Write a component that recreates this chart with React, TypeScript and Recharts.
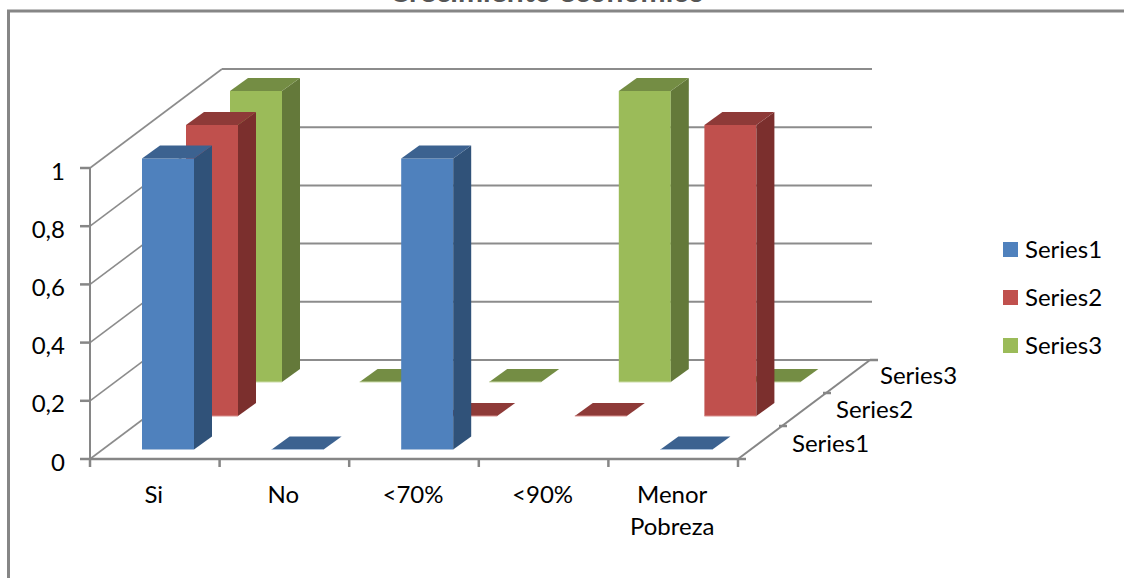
import React from "react";
import { BarChart, Bar, XAxis, YAxis, CartesianGrid } from "recharts";

const categories = ["Si", "No", "<70%", "<90%", "Menor Pobreza"];
const seriesNames = ["Series1", "Series2", "Series3"];
const series1 = [1, 0, 1, null, 0];
const series2 = [1, null, 0, 0, 1];
const series3 = [1, 0, 0, 1, 0];
const yTicks = [0, 0.2, 0.4, 0.6, 0.8, 1];

const chartData = categories.map((name, i) => ({
  name,
  Series1: series1[i],
  Series2: series2[i],
  Series3: series3[i],
}));

const FONT = "Lato, 'Open Sans', sans-serif";
const AXIS_COLOR = "#868686";
const GRID_COLOR = "#8c8c8c";

// plot area of the front plane
const PLOT_RIGHT = 738;
const PLOT_TOP = 168;
const PLOT_BOTTOM = 459;
const CATEGORY_WIDTH = (PLOT_RIGHT - 90) / categories.length;
// how far the back wall is pushed away from the front plane
const DEPTH_X = 132;
const DEPTH_Y = 99;
// bar block depth
const BAR_DX = 18;
const BAR_DY = 13;

const colors = {
  Series1: { front: "#4F81BD", top: "#3C6290", side: "#305279", edge: "#A9C0DC" },
  Series2: { front: "#C0504D", top: "#8E3A38", side: "#7B2F2D", edge: "#D9908E" },
  Series3: { front: "#9BBB59", top: "#748D44", side: "#64793A", edge: "#CBDBA8" },
};

// offset of each series row on the floor
const rowOffset = {
  Series1: { x: 13, y: 9.5 },
  Series2: { x: 57, y: 43 },
  Series3: { x: 101, y: 77 },
};

const makeBarShape = (key: "Series1" | "Series2" | "Series3") => (props: any) => {
  const { x, y, width, height, payload } = props;
  if (payload[key] === null || payload[key] === undefined) return null;
  const c = colors[key];
  const left = x + rowOffset[key].x;
  const right = left + width;
  const top = y - rowOffset[key].y;
  const bottom = top + height;
  return (
    <g>
      {height > 0 && <rect x={left} y={top} width={width} height={height} fill={c.front} />}
      {height > 0 && (
        <polygon
          points={`${right},${top} ${right + BAR_DX},${top - BAR_DY} ${right + BAR_DX},${bottom - BAR_DY} ${right},${bottom}`}
          fill={c.side}
        />
      )}
      <polygon
        points={`${left},${top} ${left + BAR_DX},${top - BAR_DY} ${right + BAR_DX},${top - BAR_DY} ${right},${top}`}
        fill={c.top}
      />
      <line x1={left} y1={bottom} x2={right} y2={bottom} stroke={c.edge} strokeWidth={1} />
    </g>
  );
};

const WallLine = (props: any) => {
  const { x1, y1, x2 } = props;
  return (
    <g key={props.key}>
      <line
        x1={x1}
        y1={y1}
        x2={x1 + DEPTH_X}
        y2={y1 - DEPTH_Y}
        stroke={GRID_COLOR}
        strokeWidth={1.6}
      />
      <line
        x1={x1 + DEPTH_X}
        y1={y1 - DEPTH_Y}
        x2={x2 + DEPTH_X + 2}
        y2={y1 - DEPTH_Y}
        stroke={GRID_COLOR}
        strokeWidth={2}
      />
    </g>
  );
};

// tick marks sit on the category boundaries, labels in the middle
const CategoryTick = (props: any) => {
  const { x, y, payload, index } = props;
  const lines = String(payload.value).split(" ");
  const left = x - CATEGORY_WIDTH / 2;
  const right = x + CATEGORY_WIDTH / 2;
  return (
    <g>
      <line x1={left} y1={PLOT_BOTTOM} x2={left} y2={PLOT_BOTTOM + 8} stroke={AXIS_COLOR} strokeWidth={2.5} />
      {index === categories.length - 1 && (
        <line x1={right} y1={PLOT_BOTTOM} x2={right} y2={PLOT_BOTTOM + 8} stroke={AXIS_COLOR} strokeWidth={2.5} />
      )}
      <text x={x - 1} y={y} textAnchor="middle" fontFamily={FONT} fontSize={24} fill="#000">
        {lines.map((line, i) => (
          <tspan key={line} x={x - 1} dy={i === 0 ? 34 : 32}>
            {line}
          </tspan>
        ))}
      </text>
    </g>
  );
};

const App = () => {
  const zx = (t: number) => PLOT_RIGHT + (DEPTH_X * t) / 3;
  const zy = (t: number) => PLOT_BOTTOM - (DEPTH_Y * t) / 3;
  return (
    <div style={{ position: "absolute", left: 0, top: 0, width: 1124, height: 578 }}>
      <BarChart
        width={1124}
        height={578}
        data={chartData}
        barSize={52}
        barGap={-52}
        margin={{ left: 30, right: 1124 - PLOT_RIGHT, top: PLOT_TOP, bottom: 79 }}
      >
        <path d="M8.5 578 V11 H1124" fill="none" stroke={AXIS_COLOR} strokeWidth={3} />
        <text
          x={547}
          y={2}
          textAnchor="middle"
          fontFamily={FONT}
          fontSize={30}
          fontWeight={700}
          fill="#555"
        >
          Crecimiento económico
        </text>
        <CartesianGrid horizontal={WallLine} vertical={false} />
        <XAxis
          dataKey="name"
          interval={0}
          height={40}
          tick={CategoryTick}
          tickLine={false}
          axisLine={{ stroke: AXIS_COLOR, strokeWidth: 2.5 }}
          tickSize={8}
        />
        <YAxis
          width={60}
          domain={[0, 1]}
          ticks={yTicks}
          tickFormatter={(v) => String(v).replace(".", ",")}
          tick={{ fontFamily: FONT, fontSize: 24, fill: "#000", dy: 3 }}
          tickLine={{ stroke: AXIS_COLOR, strokeWidth: 2.5 }}
          axisLine={{ stroke: AXIS_COLOR, strokeWidth: 2 }}
          tickSize={10}
          tickMargin={15}
        />
        <Bar dataKey="Series3" isAnimationActive={false} shape={makeBarShape("Series3")} />
        <Bar dataKey="Series2" isAnimationActive={false} shape={makeBarShape("Series2")} />
        <Bar dataKey="Series1" isAnimationActive={false} shape={makeBarShape("Series1")} />

        {/* depth axis on the floor */}
        <line x1={zx(0)} y1={zy(0)} x2={zx(3)} y2={zy(3)} stroke={AXIS_COLOR} strokeWidth={2} />
        <line x1={zx(0)} y1={zy(0)} x2={zx(0) + 8} y2={zy(0)} stroke={AXIS_COLOR} strokeWidth={2.5} />
        <line x1={zx(3)} y1={zy(3)} x2={zx(3) + 8} y2={zy(3)} stroke={AXIS_COLOR} strokeWidth={2.5} />
        {[1, 2].map((t) => (
          <line
            key={t}
            x1={zx(t) - 3}
            y1={zy(t)}
            x2={zx(t) + 5}
            y2={zy(t)}
            stroke={AXIS_COLOR}
            strokeWidth={2.5}
          />
        ))}
        {seriesNames.map((name, i) => (
          <text
            key={name}
            x={792 + i * 44}
            y={452 - i * 34}
            fontFamily={FONT}
            fontSize={24}
            fill="#000"
          >
            {name}
          </text>
        ))}

        {/* legend */}
        {seriesNames.map((name, i) => (
          <g key={name}>
            <rect
              x={1003}
              y={242 + i * 48}
              width={15}
              height={15}
              fill={colors[name as keyof typeof colors].front}
            />
            <text x={1025} y={258 + i * 48} fontFamily={FONT} fontSize={24} fill="#000">
              {name}
            </text>
          </g>
        ))}
      </BarChart>
    </div>
  );
};

export default App;
